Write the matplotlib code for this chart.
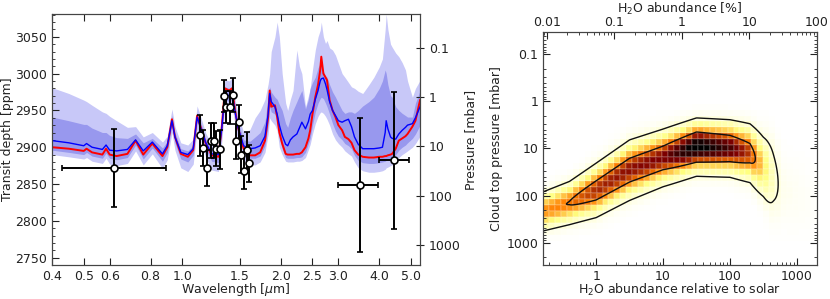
import numpy as np
import matplotlib
matplotlib.use('Agg')
import matplotlib.pyplot as plt
from matplotlib.colors import PowerNorm
from matplotlib.ticker import FixedLocator, NullLocator, MultipleLocator

# ---- transmission spectrum ----
wl = [0.40, 0.45, 0.50, 0.51, 0.53, 0.57, 0.585, 0.60, 0.63, 0.68, 0.72, 0.76, 0.81,
      0.87, 0.90, 0.93, 0.95, 0.99, 1.04, 1.08, 1.11, 1.13, 1.18, 1.23, 1.29, 1.32,
      1.35, 1.39, 1.42, 1.45, 1.48, 1.54, 1.61, 1.67, 1.73, 1.79, 1.83, 1.85, 1.87,
      1.92, 1.95, 1.98, 2.02, 2.07, 2.10, 2.14, 2.18, 2.24, 2.28, 2.32, 2.38, 2.43,
      2.46, 2.50, 2.55, 2.60, 2.64, 2.66, 2.70, 2.74, 2.77, 2.82, 2.88, 2.94, 3.00,
      3.08, 3.14, 3.22, 3.29, 3.36, 3.45, 3.56, 3.72, 3.85, 4.00, 4.09, 4.17, 4.20,
      4.25, 4.33, 4.38, 4.49, 4.59, 4.70, 4.81, 4.88, 5.05, 5.16, 5.33]
best_fit = [2900, 2898, 2895, 2898, 2893, 2890, 2898, 2890, 2888, 2891, 2909, 2890, 2905,
            2888, 2900, 2938, 2914, 2891, 2887, 2896, 2943, 2932, 2905, 2889, 2887, 2927,
            2980, 2977, 2980, 2950, 2927, 2898, 2889, 2889, 2893, 2909, 2941, 2977, 2955,
            2957, 2941, 2920, 2905, 2891, 2890, 2890, 2890, 2891, 2891, 2893, 2900, 2912,
            2923, 2945, 2968, 2985, 3005, 3023, 3000, 2995, 2991, 2964, 2950, 2941, 2930,
            2923, 2914, 2911, 2906, 2896, 2890, 2887, 2886, 2886, 2887, 2887, 2888, 2888,
            2889, 2890, 2891, 2898, 2909, 2912, 2915, 2918, 2928, 2936, 2964]
median = [2909, 2906, 2902, 2905, 2900, 2897, 2903, 2896, 2895, 2897, 2910, 2895, 2907,
          2891, 2902, 2936, 2914, 2893, 2890, 2898, 2941, 2931, 2906, 2891, 2890, 2925,
          2972, 2970, 2973, 2948, 2927, 2902, 2898, 2899, 2902, 2915, 2945, 2973, 2962,
          2955, 2945, 2930, 2916, 2904, 2902, 2910, 2914, 2918, 2926, 2934, 2925, 2935,
          2945, 2950, 2965, 2977, 2990, 2993, 2994, 2986, 2978, 2962, 2950, 2943, 2936,
          2934, 2936, 2938, 2928, 2914, 2904, 2898, 2898, 2898, 2899, 2900, 2920, 2936,
          2925, 2914, 2912, 2911, 2918, 2923, 2927, 2930, 2932, 2940, 2955]
sig1_lo = [2896, 2893, 2890, 2893, 2888, 2885, 2892, 2885, 2883, 2886, 2903, 2884, 2899,
           2881, 2893, 2930, 2906, 2884, 2880, 2889, 2934, 2924, 2897, 2881, 2879, 2918,
           2965, 2962, 2965, 2940, 2918, 2892, 2885, 2885, 2888, 2902, 2930, 2955, 2948,
           2945, 2935, 2912, 2898, 2886, 2885, 2885, 2885, 2886, 2886, 2887, 2893, 2905,
           2912, 2930, 2948, 2960, 2966, 2968, 2966, 2960, 2955, 2945, 2932, 2922, 2915,
           2910, 2905, 2902, 2898, 2889, 2882, 2879, 2878, 2878, 2879, 2880, 2881, 2882,
           2883, 2884, 2885, 2890, 2896, 2900, 2903, 2906, 2912, 2918, 2930]
sig1_hi = [2941, 2936, 2931, 2931, 2926, 2920, 2920, 2916, 2913, 2912, 2918, 2906, 2912,
           2899, 2908, 2943, 2920, 2898, 2895, 2903, 2947, 2938, 2911, 2896, 2895, 2932,
           2982, 2980, 2983, 2956, 2934, 2910, 2908, 2914, 2920, 2935, 2968, 2982, 2975,
           2968, 2965, 2958, 2950, 2932, 2927, 2940, 2950, 2962, 2970, 2977, 2952, 2965,
           2980, 2988, 2995, 3008, 3014, 3012, 3003, 2997, 2995, 2985, 2975, 2968, 2960,
           2950, 2946, 2948, 2948, 2946, 2950, 2956, 2962, 2968, 2980, 2990, 3005, 3000,
           2985, 2970, 2968, 2955, 2950, 2946, 2943, 2941, 2941, 2960, 2977]
sig2_lo = [2890, 2887, 2884, 2886, 2881, 2878, 2885, 2877, 2875, 2878, 2895, 2876, 2891,
           2871, 2883, 2920, 2896, 2872, 2867, 2877, 2924, 2914, 2886, 2869, 2867, 2907,
           2955, 2952, 2955, 2930, 2907, 2882, 2876, 2876, 2880, 2893, 2918, 2940, 2936,
           2930, 2922, 2900, 2890, 2881, 2880, 2880, 2880, 2881, 2881, 2882, 2886, 2897,
           2904, 2918, 2932, 2942, 2947, 2948, 2946, 2942, 2938, 2930, 2918, 2910, 2905,
           2900, 2895, 2891, 2888, 2880, 2872, 2868, 2866, 2866, 2867, 2868, 2870, 2872,
           2873, 2875, 2876, 2880, 2886, 2890, 2893, 2895, 2900, 2905, 2915]
sig2_hi = [2981, 2973, 2964, 2962, 2957, 2948, 2946, 2942, 2936, 2927, 2928, 2914, 2920,
           2907, 2915, 2952, 2928, 2906, 2903, 2911, 2956, 2946, 2919, 2904, 2903, 2942,
           2992, 2990, 2994, 2966, 2945, 2920, 2924, 2940, 2950, 2965, 2986, 3000, 3030,
           3050, 3070, 3050, 3000, 2960, 2950, 2965, 2977, 3032, 3010, 3000, 2955, 2970,
           2980, 3005, 3032, 3050, 3059, 3070, 3050, 3041, 3045, 3035, 3032, 3025, 3014,
           3000, 2995, 2988, 2982, 2980, 2976, 2973, 2985, 2995, 3009, 3020, 3060, 3081,
           3060, 3040, 3036, 3028, 3023, 3015, 3005, 2990, 2968, 2980, 2991]

# ---- observations ----
wfc3_wl = [1.131, 1.158, 1.190, 1.220, 1.248, 1.272, 1.308, 1.339, 1.365, 1.397,
           1.431, 1.464, 1.488, 1.514, 1.549, 1.579, 1.605]
wfc3_depth = [2916, 2899, 2872, 2909, 2909, 2898, 2897, 2970, 2955, 2954,
              2971, 2908, 2934, 2890, 2868, 2896, 2878]
wfc3_err = [28, 25, 24, 24, 24, 24, 26, 22, 22, 22, 23, 24, 24, 25, 25, 25, 25]

phot_wl = [0.62, 3.50, 4.45]
phot_depth = [2872, 2849, 2882]
phot_err = [53, 91, 93]
phot_wl_lo = [0.19, 0.50, 0.45]
phot_wl_hi = [0.27, 0.46, 0.48]

wl_ticks = [0.4, 0.5, 0.6, 0.8, 1.0, 1.5, 2.0, 2.5, 3.0, 4.0, 5.0]
p_ticks = [0.1, 1, 10, 100, 1000]
p_labels = ['0.1', '1', '10', '100', '1000']

# ---- posterior ridge of H2O vs cloud top pressure ----
ridge_log_solar = [-0.8, -0.4, 0.0, 0.5, 1.0, 1.5, 2.0, 2.3, 2.5, 2.65, 2.8, 3.3]
ridge_log_p = [2.34, 2.16, 1.89, 1.46, 1.2, 0.97, 1.0, 1.1, 1.39, 1.62, 1.9, 2.2]
ridge_width = [0.26, 0.28, 0.33, 0.36, 0.34, 0.32, 0.33, 0.36, 0.44, 0.6, 0.6, 0.7]
ridge_peak = [0.58, 0.62, 0.74, 0.78, 0.8, 1.0, 0.87, 0.72, 0.46, 0.24, 0.1, 0.04]

solar_ticks = [1, 10, 100, 1000]
solar_labels = ['1', '10', '100', '1000']
pct_ticks = [0.01, 0.1, 1, 10, 100]
pct_labels = ['0.01', '0.1', '1', '10', '100']

light = '#c8c8f8'
mid = '#9898ee'
txt = '#222222'
plt.rcParams['font.family'] = 'DejaVu Sans'
plt.rcParams['font.size'] = 9

fig = plt.figure(figsize=(8.3, 2.99), dpi=100)

# ================= left panel =================
ax = fig.add_axes([0.0627, 0.1137, 0.4434, 0.8395])
ax.fill_between(wl, sig2_lo, sig2_hi, color=light, lw=0)
ax.fill_between(wl, sig1_lo, sig1_hi, color=mid, lw=0)
ax.plot(wl, best_fit, color='red', lw=1.4)
ax.plot(wl, median, color='blue', lw=1.0)

ax.errorbar(phot_wl, phot_depth, yerr=phot_err, xerr=[phot_wl_lo, phot_wl_hi],
            fmt='o', ms=5, mfc='white', mec='black', mew=1.2, ecolor='black',
            elinewidth=1.4, capsize=2.5, capthick=1.2, zorder=5)
ax.errorbar(wfc3_wl, wfc3_depth, yerr=wfc3_err,
            fmt='o', ms=5, mfc='white', mec='black', mew=1.2, ecolor='black',
            elinewidth=1.4, capsize=2.5, capthick=1.2, zorder=5)

ax.set_xscale('log')
ax.set_xlim(0.4, 5.33)
ax.set_ylim(2740, 3081)
ax.xaxis.set_major_locator(FixedLocator(wl_ticks))
ax.xaxis.set_minor_locator(NullLocator())
ax.set_xticklabels(['%.1f' % t for t in wl_ticks])
ax.yaxis.set_major_locator(MultipleLocator(50))
ax.yaxis.set_minor_locator(MultipleLocator(10))
ax.tick_params(which='both', direction='in', top=True, right=False, colors=txt)
ax.tick_params(which='major', length=5)
ax.tick_params(which='minor', length=2.5)
ax.set_xlabel(r'Wavelength [$\mu$m]', color=txt, labelpad=-1)
ax.set_ylabel('Transit depth [ppm]', color=txt, labelpad=1)
for s in ax.spines.values():
    s.set_color('#444444')

axp = ax.twinx()
axp.set_yscale('log')
axp.set_ylim(2549, 0.0204)
axp.yaxis.set_major_locator(FixedLocator(p_ticks))
axp.yaxis.set_minor_locator(NullLocator())
axp.set_yticklabels(p_labels)
axp.tick_params(direction='inout', length=6, colors=txt)
axp.set_ylabel('Pressure [mbar]', color=txt, labelpad=2)
for s in axp.spines.values():
    s.set_color('#444444')

# ================= right panel =================
ax2 = fig.add_axes([0.6542, 0.1137, 0.330, 0.780])

lx_edges = np.linspace(np.log10(0.16), np.log10(2000), 47)
lp_edges = np.linspace(np.log10(0.033), np.log10(3000), 40)


def ridge_density(lx, lp):
    c = np.interp(lx, ridge_log_solar, ridge_log_p)
    s = np.interp(lx, ridge_log_solar, ridge_width)
    a = np.interp(lx, ridge_log_solar, ridge_peak)
    core = a * np.exp(-0.5 * ((lp - c) / s) ** 2)
    halo = 0.04 * a * np.exp(-0.5 * ((lp - c) / (2.2 * s)) ** 2)
    return core + halo


lxc = 0.5 * (lx_edges[1:] + lx_edges[:-1])
lpc = 0.5 * (lp_edges[1:] + lp_edges[:-1])
LX, LP = np.meshgrid(lxc, lpc)
hist = ridge_density(LX, LP)
ax2.pcolormesh(10 ** lx_edges, 10 ** lp_edges, hist, cmap='afmhot_r',
               norm=PowerNorm(gamma=1.5, vmin=0, vmax=1.0),
               shading='flat', edgecolors=(1, 1, 1, 0.12), linewidth=0.3,
               rasterized=True)

fx = np.linspace(lx_edges[0], lx_edges[-1], 300)
fp = np.linspace(lp_edges[0], lp_edges[-1], 300)
FX, FP = np.meshgrid(fx, fp)
ax2.contour(10 ** FX, 10 ** FP, ridge_density(FX, FP), levels=[0.18, 0.64],
            colors='#111111', linewidths=1.0)

ax2.set_xscale('log')
ax2.set_yscale('log')
ax2.set_xlim(0.16, 2000)
ax2.set_ylim(3000, 0.033)
ax2.xaxis.set_major_locator(FixedLocator(solar_ticks))
ax2.set_xticklabels(solar_labels)
ax2.yaxis.set_major_locator(FixedLocator(p_ticks))
ax2.set_yticklabels(p_labels)
ax2.tick_params(which='both', direction='in', right=True, top=False, colors=txt)
ax2.tick_params(which='major', length=5)
ax2.tick_params(which='minor', length=2.5)
ax2.set_xlabel('H$_2$O abundance relative to solar', color=txt, labelpad=-1)
ax2.set_ylabel('Cloud top pressure [mbar]', color=txt, labelpad=2)
for s in ax2.spines.values():
    s.set_color('#444444')

axt = ax2.twiny()
axt.set_xscale('log')
axt.set_xlim(0.0088, 100)
axt.xaxis.set_major_locator(FixedLocator(pct_ticks))
axt.set_xticklabels(pct_labels)
axt.tick_params(which='both', direction='in', colors=txt, pad=2)
axt.tick_params(which='major', length=5)
axt.tick_params(which='minor', length=2.5)
axt.set_xlabel('H$_2$O abundance [%]', color=txt, labelpad=2)
for s in axt.spines.values():
    s.set_color('#444444')

fig.savefig('out.png', dpi=100)
